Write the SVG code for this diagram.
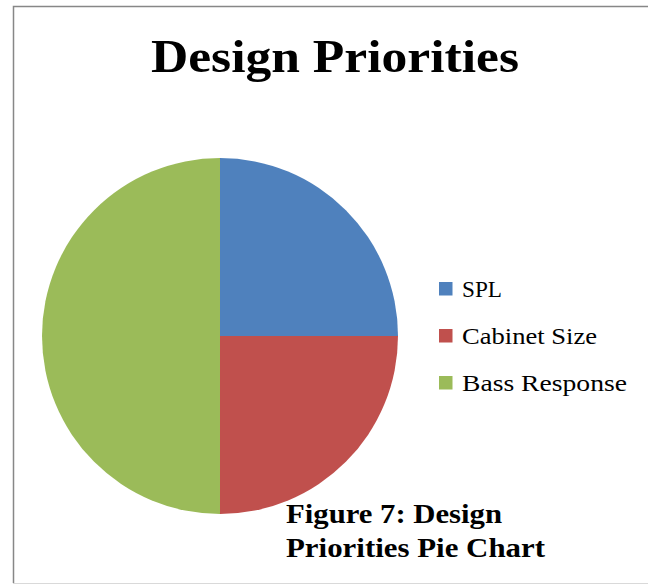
<svg xmlns="http://www.w3.org/2000/svg" width="648" height="584" viewBox="0 0 648 584">
<style>
.title{font-family:"Liberation Serif",serif;font-weight:bold;font-size:46px;fill:#000}
.leg{font-family:"Liberation Serif",serif;font-size:23.5px;fill:#000}
.cap{font-family:"Liberation Serif",serif;font-weight:bold;font-size:28px;fill:#000}
</style>
<rect width="648" height="584" fill="#fff"/>
<g id="frame" fill="none">
<path d="M13.5 583 V6.5 H648" stroke="#878787" stroke-width="1.5"/>
<line x1="13" y1="583.5" x2="648" y2="583.5" stroke="#d9d9d9" stroke-width="1"/>
</g>
<g id="title"><text class="title" x="151" y="72" textLength="368" lengthAdjust="spacingAndGlyphs">Design Priorities</text></g>
<g id="pie">
<path id="slice-spl" d="M220 336 L220 158 A178 178 0 0 1 398 336 Z" fill="#4F81BD"/>
<path id="slice-cabinet" d="M220 336 L398 336 A178 178 0 0 1 220 514 Z" fill="#C0504D"/>
<path id="slice-bass" d="M220 336 L220 514 A178 178 0 0 1 220 158 Z" fill="#9BBB59"/>
</g>
<g id="legend">
<g id="leg-spl"><rect x="439" y="282" width="13.5" height="13.5" fill="#4F81BD"/><text class="leg" x="462" y="296.5" textLength="40" lengthAdjust="spacingAndGlyphs">SPL</text></g>
<g id="leg-cabinet"><rect x="439" y="329" width="13.5" height="13.5" fill="#C0504D"/><text class="leg" x="462" y="343.5" textLength="135" lengthAdjust="spacingAndGlyphs">Cabinet Size</text></g>
<g id="leg-bass"><rect x="439" y="376" width="13.5" height="13.5" fill="#9BBB59"/><text class="leg" x="462" y="390.5" textLength="165" lengthAdjust="spacingAndGlyphs">Bass Response</text></g>
</g>
<g id="caption">
<text class="cap" x="286" y="523" textLength="216" lengthAdjust="spacingAndGlyphs">Figure 7: Design</text>
<text class="cap" x="286" y="557" textLength="259" lengthAdjust="spacingAndGlyphs">Priorities Pie Chart</text>
</g>
</svg>
